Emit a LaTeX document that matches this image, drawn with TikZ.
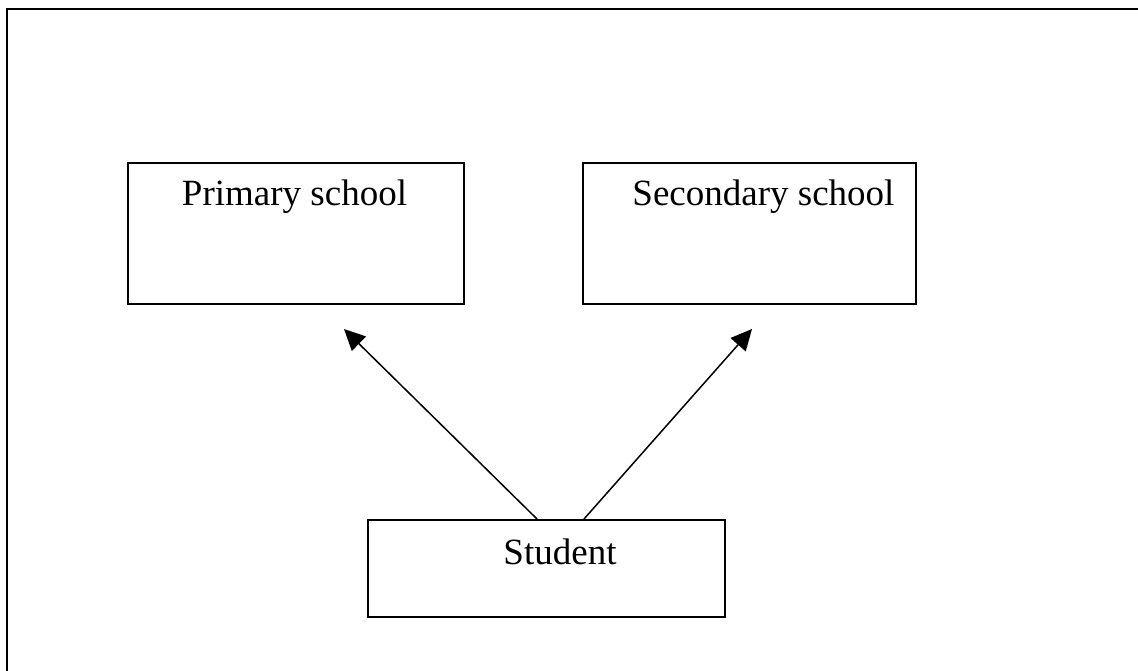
\documentclass[tikz,border=0pt]{standalone}
\usepackage{fontspec}
\setmainfont{Liberation Serif}
\usetikzlibrary{arrows.meta}
\tikzset{schoolbox/.style={draw, line width=2pt, inner sep=0pt},
  boxtext/.style={anchor=base, inner sep=0pt, font=\fontsize{37}{44}\selectfont}}

\begin{document}
\begin{tikzpicture}[x=1pt, y=-1pt]
      \useasboundingbox (0, 0) rectangle (1138, 671);
      \draw [line width=2pt] (7, 671) -- (7, 9) -- (1138, 9);

      \node [schoolbox, minimum width=336pt, minimum height=141pt,
        label={[boxtext, yshift=-44pt, xshift=-1.5pt]north:Primary school}] (primary) at (296, 233.5) {};
      \node [schoolbox, minimum width=333pt, minimum height=141pt,
        label={[boxtext, yshift=-44pt, xshift=14pt]north:Secondary school}] (secondary) at (749.5, 233.5) {};
      \node [schoolbox, minimum width=357pt, minimum height=97pt,
        label={[boxtext, yshift=-45pt, xshift=13.5pt]north:Student}] (student) at (546.5, 568.5) {};

      \coordinate (primarytip) at (344, 329);
      \coordinate (secondarytip) at (752, 329);

      \draw [line width=1.5pt, -{Triangle[length=21pt, width=20pt]}] ([xshift=-9.5pt]student.north) -- (primarytip);
      \draw [line width=1.5pt, -{Triangle[length=21pt, width=20pt]}] ([xshift=37.5pt]student.north) -- (secondarytip);
    \end{tikzpicture}
\end{document}
